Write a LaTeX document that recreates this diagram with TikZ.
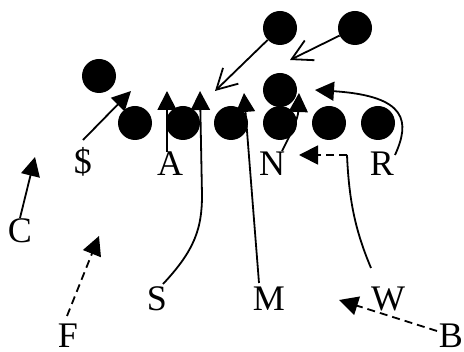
\documentclass[tikz,border=0pt]{standalone}
\usepackage{fontspec}
\setmainfont{Liberation Serif}
\usetikzlibrary{arrows.meta}
\begin{document}
\begin{tikzpicture}[x=1pt,y=-1pt,
  player/.style={circle,fill=black,minimum size=34pt,inner sep=0pt},
  lbl/.style={anchor=base,inner sep=0pt,font=\fontsize{36}{40}\selectfont},
  run/.style={line width=1.8pt,-{Triangle[length=19pt,width=19pt]}},
  openrun/.style={line width=1.8pt,-{Straight Barb[length=20pt,width=22pt]}},
  dashrun/.style={run,dash pattern=on 8pt off 5pt}]
\useasboundingbox (0,0) rectangle (464,352);
% circles
\node[player] (t1) at (280,28) {};
\node[player] (t2) at (355,28) {};
\node[player] (l1) at (99,76) {};
\node[player] (mh) at (280,90) {};
\node[player] (r1) at (135,123) {};
\node[player] (r2) at (183,123) {};
\node[player] (r3) at (231,123) {};
\node[player] (r4) at (280,123) {};
\node[player] (r5) at (329,123) {};
\node[player] (r6) at (378,123) {};
% labels
\node[lbl] (dl) at (83,174) {\$};
\node[lbl] (A) at (170,176) {A};
\node[lbl] (N) at (272,176) {N};
\node[lbl] (R) at (382,176) {R};
\node[lbl] (C) at (20,243) {C};
\node[lbl] (F) at (68,348) {F};
\node[lbl] (S) at (157,311) {S};
\node[lbl] (M) at (269,311) {M};
\node[lbl] (W) at (388,311) {W};
\node[lbl] (B) at (451,348) {B};
% coordinates for free ends
\coordinate (tdl) at (131,91);
\coordinate (tA) at (167,91);
\coordinate (tS) at (200,91);
\coordinate (tM) at (244,93);
\coordinate (tN) at (299,93);
\coordinate (tR) at (315,90);
\coordinate (wc) at (347,155);
\coordinate (tW) at (299,155);
\coordinate (tC) at (35,157);
\coordinate (tF) at (99,236);
\coordinate (tB) at (339,300);
\coordinate (to1) at (290,60);
\coordinate (to2) at (215,91);
% arrows
\draw[run] (83,140) -- (tdl);
\draw[run] (167,152) -- (tA);
\draw[run] (163,284) .. controls (195,250) and (202,228) .. (202,195) -- (tS);
\draw[run] (259,283) -- (tM);
\draw[run] (282,151) .. controls (292,132) and (298,118) .. (tN);
\draw[run] (395,155) .. controls (410,122) and (408,96) .. (tR);
\draw[line width=1.8pt] (371,268) .. controls (355,230) and (349,200) .. (wc);
\draw[dashrun] (wc) -- (tW);
\draw[run] (20,218) -- (tC);
\draw[dashrun] (67,316) -- (tF);
\draw[dashrun] (437,331) -- (tB);
\draw[openrun] (t2) -- (to1);
\draw[openrun] (t1) -- (to2);
\end{tikzpicture}
\end{document}
